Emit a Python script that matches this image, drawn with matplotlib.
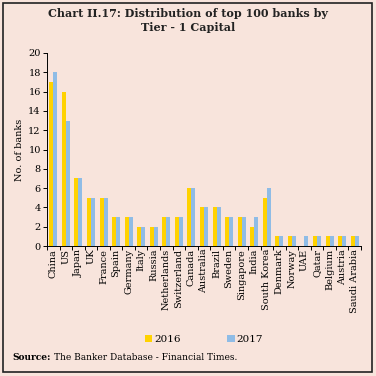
import matplotlib.pyplot as plt
import numpy as np
from matplotlib.patches import Rectangle

# data
countries = ['China', 'US', 'Japan', 'UK', 'France', 'Spain', 'Germany', 'Italy',
             'Russia', 'Netherlands', 'Switzerland', 'Canada', 'Australia', 'Brazil',
             'Sweden', 'Singapore', 'India', 'South Korea', 'Denmark', 'Norway',
             'UAE', 'Qatar', 'Belgium', 'Austria', 'Saudi Arabia']
banks_2016 = [17, 16, 7, 5, 5, 3, 3, 2, 2, 3, 3, 6, 4, 4, 3, 3, 2, 5, 1, 1, 0, 1, 1, 1, 1]
banks_2017 = [18, 13, 7, 5, 5, 3, 3, 2, 2, 3, 3, 6, 4, 4, 3, 3, 3, 6, 1, 1, 1, 1, 1, 1, 1]

bg = '#F8E4DC'
c16 = '#FFD200'
c17 = '#8FBCE6'

plt.rcParams['font.family'] = ['DejaVu Serif']

fig = plt.figure(figsize=(3.76, 3.76), dpi=100)
fig.patch.set_facecolor(bg)
fig.patches.append(Rectangle((3 / 376, 4 / 376), 369 / 376, 369 / 376, transform=fig.transFigure,
                             fill=False, edgecolor='#222222', linewidth=1.2))

ax = fig.add_axes([47 / 376, 130 / 376, 314 / 376, 193 / 376])
ax.set_facecolor(bg)

x = np.arange(len(countries))
w = 0.32
ax.bar(x - w / 2, banks_2016, w, color=c16, label='2016')
ax.bar(x + w / 2, banks_2017, w, color=c17, label='2017')

ax.set_xlim(-0.5, len(countries) - 0.5)
ax.set_ylim(0, 20)
ax.set_yticks(range(0, 21, 2))
ax.set_xticks(x)
ax.set_xticklabels(countries, rotation=90, fontsize=7)
ax.set_xticks(np.arange(-0.5, len(countries), 1), minor=True)
ax.tick_params(axis='x', which='major', length=0, pad=2)
ax.tick_params(axis='x', which='minor', length=3, width=0.7)
ax.tick_params(axis='y', length=3, width=0.7, labelsize=7, pad=1.5)
for s in ['top', 'right']:
    ax.spines[s].set_visible(False)
for s in ['left', 'bottom']:
    ax.spines[s].set_linewidth(0.7)
ax.set_ylabel('No. of banks', fontsize=7, labelpad=3)

fig.text(0.5, 0.945, 'Chart II.17: Distribution of top 100 banks by\nTier - 1 Capital',
         ha='center', va='center', fontsize=8, fontweight='bold', color='#222222',
         linespacing=1.3)

ax.legend(loc='upper center', bbox_to_anchor=(0.5, -0.41), ncol=2, frameon=False,
          fontsize=7.5, handlelength=0.7, handleheight=0.7, columnspacing=4.5,
          handletextpad=0.2)

fig.text(12 / 376, 1 - 358 / 376, 'Source:', fontsize=6.5, fontweight='bold',
         va='center', ha='left')
fig.text(54 / 376, 1 - 358 / 376, 'The Banker Database - Financial Times.',
         fontsize=6.5, va='center', ha='left')

fig.savefig('out.png', dpi=100, facecolor=bg)
